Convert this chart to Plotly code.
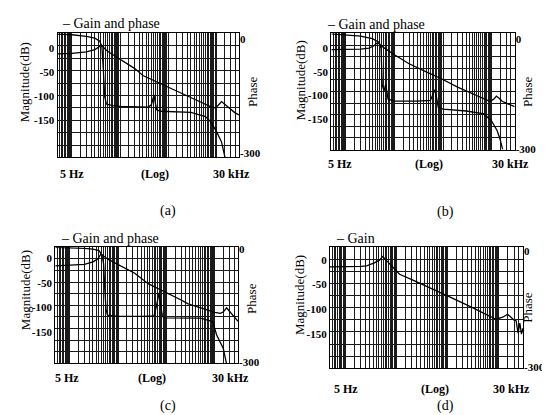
import numpy as np
import plotly.graph_objects as go

# ---------------- data ----------------
# Panel (a)
freq_mag_a = [5, 10, 20, 30, 36, 40, 44, 50, 60, 100, 200, 300, 730, 1500, 2600, 5000,
              7400, 9400, 11000, 13000, 15000, 18000, 24500, 30000]
mag_a = [-12, -11, -8, -3, 2, 7, 3, -3, -9, -23, -42, -57, -74, -88, -100, -113,
         -121, -124, -119, -111, -116, -124, -134, -139]
freq_ph_a = [5, 10, 20, 30, 38, 42, 45, 48, 52, 70, 100, 200, 385, 450, 480, 510, 540,
             580, 700, 1000, 3000, 6000, 7500, 10000, 13000, 15000, 17000]
phase_a = [14, 12, 8, 3, -5, -20, -80, -150, -170, -174, -176, -177, -178, -172, -155,
           -146, -165, -185, -189, -190, -192, -203, -215, -240, -270, -305, -330]

# Panel (b)
freq_mag_b = [5, 10, 20, 30, 38, 45, 50, 60, 100, 200, 500, 860, 2000, 5000, 9200,
              11000, 12600, 14500, 16500, 20000, 28000, 30000]
mag_b = [-3, -3, -2, 0, 5, 12, 8, 1, -14, -33, -52, -63, -82, -100, -112,
         -108, -101, -106, -112, -116, -122, -123]
freq_ph_b = [5, 10, 20, 35, 48, 53, 56, 61, 66, 74, 100, 300, 550, 620, 680, 740, 800,
             1000, 3000, 7000, 10000, 13000, 15000, 17000]
phase_b = [15, 13, 9, 2, -8, -25, -124, -141, -122, -163, -168, -168, -166, -150, -137,
           -160, -185, -190, -195, -203, -222, -248, -272, -300]

# Panel (c)
freq_mag_c = [5, 10, 20, 30, 38, 44, 50, 60, 85, 220, 415, 783, 2000, 2800, 5000,
              10000, 13000, 15000, 17400, 20000, 22000, 26000, 30000]
mag_c = [-16, -15, -13, -8, -2, 8, 4, -2, -10, -31, -52, -65, -85, -93, -101,
         -110, -112, -109, -101, -108, -114, -121, -128]
freq_ph_c = [5, 10, 20, 30, 40, 46, 50, 53, 56, 60, 100, 300, 550, 620, 700, 760, 820,
             900, 2000, 5000, 9000, 10800, 13000, 14800, 17400]
phase_c = [5, 4, 2, 0, -4, -15, -40, -110, -160, -175, -178, -178, -177, -150, -115,
           -150, -178, -182, -182, -183, -192, -227, -248, -262, -304]

# Panel (d)  (gain only)
freq_mag_d = [5, 10, 20, 26, 37, 47, 54, 62, 74, 90, 115, 200, 500, 1100, 3000, 6600,
              8900, 12000, 15000, 17500, 20000, 22000, 24000, 26000, 28000, 30000]
mag_d = [-14, -14, -13, -12, -6, 0, 7, 0, -8, -17, -29, -40, -58, -75, -96, -114,
         -120, -116, -110, -116, -122, -123, -148, -128, -150, -138]

mag_tick_vals = [0, -50, -100, -150]
mag_tick_text = ["0", "-50", "-100", "-150"]
phase_tick_vals = [0, -300]
phase_tick_text = ["0", "-300"]
freq_labels = ["5 Hz", "(Log)", "30 kHz"]
panel_labels = ["(a)", "(b)", "(c)", "(d)"]
legend_texts = ["– Gain and phase", "– Gain and phase", "– Gain and phase", "– Gain"]

# ---------------- layout helpers ----------------
W, H = 550, 415
FONT = "Liberation Serif"


def px(x):
    return x / W


def py(y):
    return 1 - y / H


# plot boxes in pixels: left, right, top, bottom
boxes = [(49.5, 231, 22, 149), (323.3, 506.7, 22, 141),
         (47.3, 230, 241, 360), (322, 515, 241, 365)]
# magnitude axis: (pixel of 0 dB, pixel of -150 dB)
mag_px = [(37, 111), (37, 110), (252, 328), (254, 330)]
# phase axis: (pixel of 0 deg, pixel of -300 deg)
ph_px = [(28, 145), (28, 141), (243, 359), (245, 364)]

legend_pos = [(52, 12), (317, 13), (51, 232), (326, 232)]
mag_title_pos = [(16, 72), (292, 70), (17, 285), (291, 290)]
phase_title_pos = [(244, 82), (519, 82), (244, 294), (520, 303)]
freq_label_pos = [((63.5, 146.5, 223.5), 166), ((332, 421, 502), 156),
                  ((59, 144, 222), 375), ((338, 427, 503), 386)]
panel_label_pos = [(160, 204), (437, 205), (160, 404), (437, 404)]

series = [
    (freq_mag_a, mag_a, freq_ph_a, phase_a),
    (freq_mag_b, mag_b, freq_ph_b, phase_b),
    (freq_mag_c, mag_c, freq_ph_c, phase_c),
    (freq_mag_d, mag_d, [], []),
]

# log grid lines: half-steps in each decade
mults = np.arange(1.0, 10.0, 0.5)
vgrid = [m * 10 ** e for e in range(0, 5) for m in mults if 5 <= m * 10 ** e <= 30000]

fig = go.Figure()
layout = dict(
    width=W, height=H, margin=dict(l=0, r=0, t=0, b=0),
    paper_bgcolor="white", plot_bgcolor="white", showlegend=False,
    font=dict(family=FONT, color="black"),
)
annotations = []
tickfont = dict(family=FONT, size=11, color="black", weight="bold")

for i, (fm, m, fp, p) in enumerate(series):
    n = i + 1
    xa = f"xaxis{n if n > 1 else ''}"
    ym_id = 2 * i + 1
    yp_id = 2 * i + 2
    ya_m = f"yaxis{ym_id if ym_id > 1 else ''}"
    ya_p = f"yaxis{yp_id}"
    L, R, T, B = boxes[i]
    z0, z150 = mag_px[i]
    k = (z150 - z0) / 150.0  # px per dB
    mag_range = [-(B - z0) / k, (z0 - T) / k]
    p0, p300 = ph_px[i]
    kp = (p300 - p0) / 300.0
    ph_range = [-(B - p0) / kp, (p0 - T) / kp]
    hgrid = list(np.linspace(mag_range[0], mag_range[1], 11))

    layout[xa] = dict(
        type="log", domain=[px(L), px(R)], range=[np.log10(5), np.log10(30000)],
        anchor=f"y{ym_id}", showticklabels=False, ticks="", tickvals=[],
        showgrid=False, zeroline=False, showline=True, mirror=True,
        linecolor="black", linewidth=1.2,
        minor=dict(tickmode="array", tickvals=vgrid, showgrid=True,
                   gridcolor="#1a1a1a", gridwidth=1, ticks=""),
    )
    layout[ya_m] = dict(
        domain=[py(B), py(T)], range=mag_range, anchor=f"x{n}",
        tickmode="array", tickvals=mag_tick_vals, ticktext=mag_tick_text,
        tickfont=tickfont, ticks="", showgrid=False, zeroline=False,
        showline=True, mirror=True, linecolor="black", linewidth=1.2,
        minor=dict(tickmode="array", tickvals=hgrid, showgrid=True,
                   gridcolor="#1a1a1a", gridwidth=1.2, ticks=""),
    )
    layout[ya_p] = dict(
        overlaying=f"y{ym_id}", side="right", anchor=f"x{n}", range=ph_range,
        tickmode="array", tickvals=phase_tick_vals, ticktext=phase_tick_text,
        tickfont=tickfont, ticks="", showgrid=False, zeroline=False, showline=False,
    )

    fig.add_trace(go.Scatter(x=fm, y=m, mode="lines", xaxis=f"x{n}", yaxis=f"y{ym_id}",
                             name="Gain", line=dict(color="black", width=1.3)))
    # phase trace (empty for panel d, which only shows gain, but keeps its phase axis)
    fig.add_trace(go.Scatter(x=fp, y=p, mode="lines", xaxis=f"x{n}", yaxis=f"y{yp_id}",
                             name="Phase", line=dict(color="black", width=1.3),
                             hoverinfo="skip" if not fp else None))

    # texts
    lx, ly = legend_pos[i]
    annotations.append(dict(text=legend_texts[i], x=px(lx), y=py(ly), xref="paper", yref="paper",
                            xanchor="left", yanchor="middle", showarrow=False,
                            font=dict(family=FONT, size=14, color="black")))
    mx, my = mag_title_pos[i]
    annotations.append(dict(text="Magnitude(dB)", x=px(mx), y=py(my), xref="paper", yref="paper",
                            textangle=-90, showarrow=False, xanchor="center", yanchor="middle",
                            font=dict(family=FONT, size=13, color="black")))
    phx, phy = phase_title_pos[i]
    annotations.append(dict(text="Phase", x=px(phx), y=py(phy), xref="paper", yref="paper",
                            textangle=-90, showarrow=False, xanchor="center", yanchor="middle",
                            font=dict(family=FONT, size=13, color="black")))
    xs, yl = freq_label_pos[i]
    for t, xx in zip(freq_labels, xs):
        annotations.append(dict(text=t, x=px(xx), y=py(yl), xref="paper", yref="paper",
                                showarrow=False, xanchor="center", yanchor="middle",
                                font=dict(family=FONT, size=12, color="black", weight="bold")))
    plx, ply = panel_label_pos[i]
    annotations.append(dict(text=panel_labels[i], x=px(plx), y=py(ply), xref="paper", yref="paper",
                            showarrow=False, xanchor="center", yanchor="middle",
                            font=dict(family=FONT, size=14, color="black")))

layout["annotations"] = annotations
fig.update_layout(**layout)
fig.write_html("out.html")
